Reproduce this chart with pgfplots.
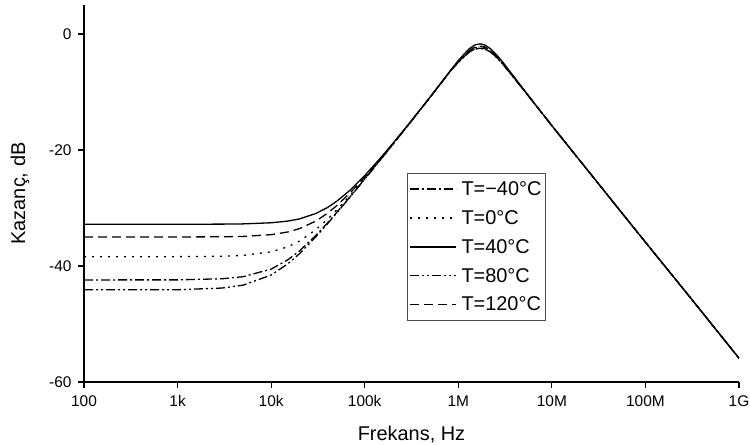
\documentclass[border=0pt]{standalone}
\usepackage{pgfplots}
\pgfplotsset{compat=1.18}
\usetikzlibrary{calc}
\usepackage{fontspec}
\setmainfont{Liberation Sans}
\begin{document}
\begin{tikzpicture}
\begin{axis}[
 scale only axis, width=655bp, height=377bp,
 xmode=log, xmin=100, xmax=1e9, ymin=-60, ymax=5,
 axis lines=left, axis line style={-, line width=1.1bp},
 xtick={1e2,1e3,1e4,1e5,1e6,1e7,1e8,1e9},
 xticklabels={100,1k,10k,100k,1M,10M,100M,1G},
 ytick={-60,-40,-20,0}, yticklabels={-60,-40,-20,0},
 minor tick num=0, xminorticks=false, yminorticks=false,
 tick align=outside, major tick length=6bp, tick style={line width=1.1bp, black},
 ticklabel style={font=\fontsize{15.5}{15.5}\selectfont},
 yticklabel shift=3bp, xticklabel shift=4bp,
 xlabel={Frekans, Hz}, ylabel={Kazanç, dB},
 label style={font=\fontsize{20}{20}\selectfont},
 xlabel shift=12bp, ylabel shift=13bp,
 legend style={at={(0.493,0.554)}, anchor=north west, draw=black!70, line width=0.6bp,
   font=\fontsize{20}{20}\selectfont, row sep=9.5bp, inner xsep=2bp, inner ysep=6bp},
 legend cell align=left,
 legend image code/.code={\draw[#1] (0bp,0bp) -- (46bp,0bp); \path (49bp,0bp);},
 every axis plot/.append style={line width=1.3bp, black},
]
% T=-40
\addplot[dash pattern=on 9bp off 3bp on 2bp off 3bp] coordinates {
(100,-42.4)(1000,-42.39)(3000,-42.20)(5000,-41.85)(10000,-40.53)(15000,-38.96)(20000,-37.43)
(30000,-34.74)(40000,-32.58)(50000,-30.79)(70000,-28.04)(100000,-25.01)(150000,-21.52)
(200000,-19.02)(300000,-15.46)(500000,-10.9)(700000,-7.85)(850000,-6.1)(1e6,-4.87)
(1.3e6,-3.1)(1.5e6,-2.55)(1.7e6,-2.45)(1.9e6,-2.5)(2.2e6,-3.05)(2.6e6,-4.1)(3e6,-5.2)
(4e6,-7.71)(5e6,-9.67)(7e6,-12.62)(1e7,-15.8)(3e7,-25.4)(1e8,-35.9)(3e8,-45.4)(1e9,-55.9)};
\addlegendentry{T=−40°C}
% T=0
\addplot[dash pattern=on 2bp off 6bp] coordinates {
(100,-38.4)(1000,-38.39)(3000,-38.32)(5000,-38.17)(10000,-37.56)(15000,-36.70)(20000,-35.73)
(30000,-33.74)(40000,-31.95)(50000,-30.36)(70000,-27.80)(100000,-24.89)(150000,-21.46)
(200000,-18.99)(300000,-15.45)(500000,-10.89)(700000,-7.85)(850000,-6.08)(1e6,-4.85)
(1.3e6,-3.0)(1.5e6,-2.4)(1.7e6,-2.3)(1.9e6,-2.4)(2.2e6,-2.95)(2.6e6,-4.05)(3e6,-5.15)
(4e6,-7.7)(5e6,-9.66)(7e6,-12.62)(1e7,-15.8)(3e7,-25.4)(1e8,-35.9)(3e8,-45.4)(1e9,-55.9)};
\addlegendentry{T=0°C}
% T=40
\addplot[solid] coordinates {
(100,-32.8)(1000,-32.8)(3000,-32.78)(5000,-32.74)(10000,-32.55)(15000,-32.26)(20000,-31.89)
(30000,-30.95)(40000,-29.92)(50000,-28.86)(70000,-26.91)(100000,-24.41)(150000,-21.24)
(200000,-18.86)(300000,-15.39)(500000,-10.87)(700000,-7.8)(850000,-6.02)(1e6,-4.57)
(1.3e6,-2.58)(1.5e6,-1.90)(1.7e6,-1.7)(1.9e6,-1.86)(2.2e6,-2.51)(2.6e6,-3.69)(3e6,-4.89)
(4e6,-7.51)(5e6,-9.57)(7e6,-12.62)(1e7,-15.8)(3e7,-25.4)(1e8,-35.9)(3e8,-45.4)(1e9,-55.9)};
\addlegendentry{T=40°C}
% T=80
\addplot[dash pattern=on 9bp off 3bp on 2bp off 3bp on 2bp off 3bp] coordinates {
(100,-44.1)(1000,-44.09)(3000,-43.80)(5000,-43.31)(10000,-41.56)(15000,-39.65)(20000,-37.91)
(30000,-34.98)(40000,-32.73)(50000,-30.89)(70000,-28.09)(100000,-25.04)(150000,-21.53)
(200000,-19.03)(300000,-15.46)(500000,-10.9)(700000,-7.86)(850000,-6.12)(1e6,-4.9)
(1.3e6,-3.15)(1.5e6,-2.6)(1.7e6,-2.5)(1.9e6,-2.55)(2.2e6,-3.1)(2.6e6,-4.12)(3e6,-5.22)
(4e6,-7.72)(5e6,-9.67)(7e6,-12.62)(1e7,-15.8)(3e7,-25.4)(1e8,-35.9)(3e8,-45.4)(1e9,-55.9)};
\addlegendentry{T=80°C}
% T=120
\addplot[dash pattern=on 9bp off 5bp] coordinates {
(100,-35.0)(1000,-35.0)(3000,-34.96)(5000,-34.90)(10000,-34.60)(15000,-34.14)(20000,-33.57)
(30000,-32.26)(40000,-30.91)(50000,-29.62)(70000,-27.38)(100000,-24.67)(150000,-21.36)
(200000,-18.93)(300000,-15.42)(500000,-10.88)(700000,-7.83)(850000,-6.05)(1e6,-4.75)
(1.3e6,-2.9)(1.5e6,-2.25)(1.7e6,-2.1)(1.9e6,-2.2)(2.2e6,-2.8)(2.6e6,-3.9)(3e6,-5.05)
(4e6,-7.62)(5e6,-9.62)(7e6,-12.62)(1e7,-15.8)(3e7,-25.4)(1e8,-35.9)(3e8,-45.4)(1e9,-55.9)};
\addlegendentry{T=120°C}
\end{axis}
\pgfresetboundingbox
\path ($(current axis.south west)+(-84bp,-63bp)$) rectangle ($(current axis.north east)+(11bp,5bp)$);
\end{tikzpicture}
\end{document}
